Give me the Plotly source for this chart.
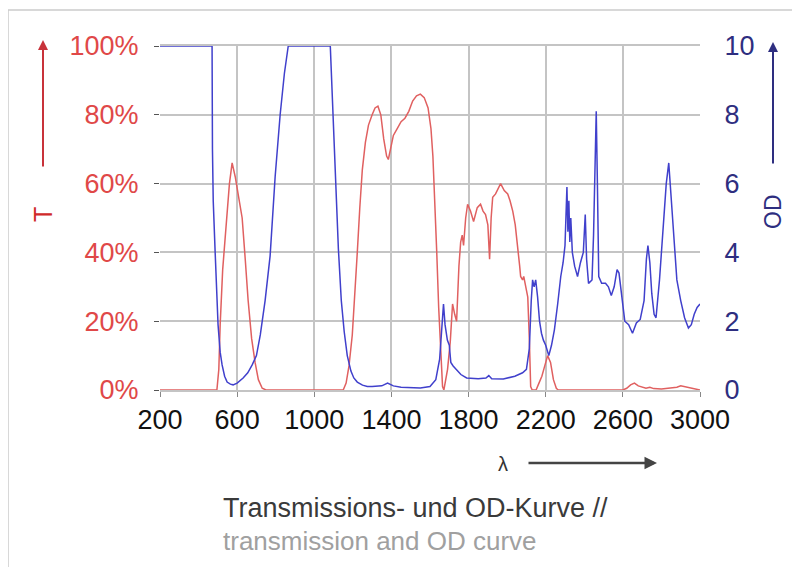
import plotly.graph_objects as go

# ---------------- data ----------------
wl_T = [200, 495, 505, 512, 525, 538, 548, 560, 574, 590, 608, 626, 642, 657, 675, 693, 710, 730, 750,
        1150, 1165, 1180, 1197, 1210, 1223, 1236, 1249, 1265, 1281, 1300, 1315, 1330, 1345, 1360, 1375, 1384,
        1395, 1410, 1430, 1450, 1470, 1490, 1510, 1530, 1550, 1570, 1590, 1605, 1615, 1625, 1635, 1645, 1655,
        1665, 1672, 1680, 1691, 1705, 1717, 1728, 1738, 1750, 1759, 1767, 1774, 1785, 1795, 1810, 1826, 1845,
        1862, 1875, 1888, 1900, 1909, 1917, 1925, 1940, 1955, 1966, 1985, 2003, 2015, 2029, 2042, 2055, 2065,
        2070, 2080, 2086, 2095, 2107, 2115, 2122, 2130, 2150, 2165, 2180, 2195, 2210, 2225, 2240, 2255, 2265,
        2600, 2620, 2640, 2660, 2680, 2700, 2720, 2740, 2760, 2800, 2850, 2880, 2900, 2920, 2950, 2980, 3000]
T_pct = [0, 0, 6, 19, 35, 45, 50, 60, 66, 62, 56, 50, 38, 26, 15, 8, 3, 0.5, 0,
         0, 2, 7, 16, 27, 40, 53, 64, 72, 77, 80, 82, 82.5, 80, 73, 68, 67,
         70, 74, 76, 78, 79, 81, 84, 85.5, 86, 85, 82, 76, 68, 56, 40, 24, 10,
         1, 0, 3, 6, 14, 25, 22, 20, 36, 43, 45, 42, 50, 54, 52, 49, 53,
         54, 52, 51, 48, 38, 50, 56, 57, 59, 60, 58, 57, 55, 52, 48, 42, 36,
         33, 32, 33, 30, 27, 15, 1, 0, 0, 2, 4, 7, 10, 8, 3, 0.5, 0,
         0, 0.5, 1.5, 2, 1.2, 0.8, 0.5, 0.8, 0.4, 0.3, 0.5, 0.8, 1.2, 1.0, 0.6, 0.3, 0]

wl_OD = [200, 470, 472, 476, 486, 501, 512, 522, 535, 548, 565, 579, 600, 631, 655, 678, 700, 720, 745,
         771, 797, 823, 845, 865, 1083, 1095, 1110, 1125, 1140, 1155, 1171, 1190, 1205, 1223, 1250, 1275,
         1300, 1350, 1380, 1410, 1450, 1500, 1550, 1600, 1630, 1650, 1662, 1670, 1678, 1690, 1700, 1708,
         1720, 1735, 1760, 1790, 1850, 1890, 1905, 1920, 1980, 2040, 2080, 2100, 2115, 2125, 2132, 2140,
         2148, 2158, 2168, 2178, 2188, 2200, 2216, 2230, 2245, 2262, 2278, 2290, 2300, 2310, 2315, 2320,
         2325, 2330, 2338, 2350, 2365, 2380, 2395, 2405, 2412, 2422, 2440, 2448, 2455, 2462, 2468, 2475,
         2490, 2510, 2525, 2540, 2555, 2570, 2580, 2595, 2610, 2630, 2650, 2670, 2690, 2710, 2722, 2730,
         2740, 2750, 2762, 2772, 2790, 2810, 2825, 2838, 2850, 2865, 2880, 2900, 2920, 2940, 2955, 2970,
         2985, 3000]
OD_vals = [10, 10, 7, 5.5, 4.0, 1.9, 1.1, 0.73, 0.4, 0.23, 0.17, 0.15, 0.2, 0.35, 0.5, 0.73, 1.0, 1.6, 2.6,
           3.9, 6.2, 8.0, 9.2, 10, 10, 8.3, 6.2, 4.1, 2.6, 1.7, 1.0, 0.55, 0.35, 0.23, 0.14, 0.1,
           0.1, 0.12, 0.2, 0.12, 0.08, 0.07, 0.06, 0.1, 0.3, 0.9, 1.8, 2.5, 1.9, 1.45, 1.3, 0.8,
           0.7, 0.6, 0.45, 0.35, 0.33, 0.35, 0.42, 0.33, 0.32, 0.4, 0.5, 0.6, 1.2, 2.6, 3.2, 3.0,
           3.2, 2.7, 2.0, 1.65, 1.45, 1.3, 1.0, 1.3, 1.75, 2.5, 3.3, 3.7, 4.2, 5.9, 4.6, 5.5,
           4.3, 5.0, 4.0, 3.6, 3.3, 3.7, 4.0, 5.1, 3.8, 3.1, 3.2, 4.5, 6.5, 8.1, 6.0, 3.3,
           3.1, 3.1, 3.0, 2.75, 3.0, 3.5, 3.4, 2.6, 2.0, 1.9, 1.65, 1.95, 2.05, 2.6, 3.8, 4.2,
           3.7, 2.8, 2.2, 2.1, 3.2, 4.8, 6.0, 6.6, 5.6, 4.2, 3.2, 2.6, 2.1, 1.8, 1.9, 2.2,
           2.4, 2.5]

x_ticks = [200, 600, 1000, 1400, 1800, 2200, 2600, 3000]
T_ticks = [0, 20, 40, 60, 80, 100]
T_tick_labels = ["0%", "20%", "40%", "60%", "80%", "100%"]
OD_ticks = [0, 2, 4, 6, 8, 10]

# ---------------- figure ----------------
FONT = "Liberation Sans, Arial, sans-serif"
RED = "#e04848"
NAVY = "#2e2e80"

fig = go.Figure()
fig.add_trace(go.Scatter(x=wl_T, y=T_pct, mode="lines", line=dict(color="#e06060", width=1.5),
                         yaxis="y", showlegend=False, hoverinfo="skip"))
fig.add_trace(go.Scatter(x=wl_OD, y=OD_vals, mode="lines", line=dict(color="#4040cc", width=1.5),
                         yaxis="y2", showlegend=False, hoverinfo="skip"))

fig.update_layout(
    width=800, height=567,
    margin=dict(l=152, r=108, t=38, b=185),
    paper_bgcolor="white", plot_bgcolor="white",
    font=dict(family=FONT),
    xaxis=dict(range=[200, 3000], tickvals=x_ticks, showgrid=True, gridcolor="#c4c4c4", gridwidth=2,
               zeroline=False, showline=True, linecolor="#c4c4c4", linewidth=2, mirror=True,
               ticks="outside", ticklen=5, tickcolor="#888",
               tickfont=dict(size=27, color="#111")),
    yaxis=dict(range=[0, 100], tickvals=T_ticks, ticktext=T_tick_labels, showgrid=True,
               gridcolor="#c4c4c4", gridwidth=2, zeroline=False, ticks="outside", ticklen=5,
               tickcolor="#555", tickfont=dict(size=27, color=RED), ticklabelstandoff=10),
    yaxis2=dict(range=[0, 10], tickvals=OD_ticks, overlaying="y", side="right", showgrid=False,
                zeroline=False, ticks="outside", ticklen=0, tickfont=dict(size=27, color=NAVY),
                ticklabelstandoff=18),
)

# outer frame
fig.add_shape(type="rect", xref="paper", yref="paper",
              x0=(8 - 160) / 540, x1=(810 - 160) / 540, y0=(390 - 590) / 344, y1=(390 - 10) / 344,
              line=dict(color="#cccccc", width=1.5), fillcolor="rgba(0,0,0,0)", layer="below")

# axis titles and arrows
fig.add_annotation(xref="paper", yref="paper", x=(43 - 160) / 540, y=(390 - 215) / 344, text="T",
                   textangle=-90, showarrow=False, xanchor="center", yanchor="middle",
                   font=dict(size=25, color="#d02a2a"))
fig.add_annotation(xref="paper", yref="paper", x=(43 - 160) / 540, y=(390 - 40) / 344, text="",
                   showarrow=True, ax=0, ay=128, arrowhead=2, arrowsize=1, arrowwidth=2,
                   arrowcolor="#c8323a")
fig.add_annotation(xref="paper", yref="paper", x=(773 - 160) / 540, y=(390 - 211) / 344, text="OD",
                   textangle=-90, showarrow=False, xanchor="center", yanchor="middle",
                   font=dict(size=23, color=NAVY))
fig.add_annotation(xref="paper", yref="paper", x=(773 - 160) / 540, y=(390 - 42) / 344, text="",
                   showarrow=True, ax=0, ay=123, arrowhead=2, arrowsize=1, arrowwidth=2,
                   arrowcolor=NAVY)

# lambda label and arrow
fig.add_annotation(xref="paper", yref="paper", x=(503 - 160) / 540, y=(390 - 464) / 344, text="λ",
                   showarrow=False, xanchor="center", yanchor="middle",
                   font=dict(size=20, color="#333"))
fig.add_annotation(xref="paper", yref="paper", x=(657 - 160) / 540, y=(390 - 463) / 344, text="",
                   showarrow=True, ax=-130, ay=0, arrowhead=2, arrowsize=1, arrowwidth=2.5,
                   arrowcolor="#444")

# caption
fig.add_annotation(xref="paper", yref="paper", x=(221 - 160) / 540, y=(390 - 508) / 344,
                   xanchor="left", yanchor="middle", text="Transmissions- und OD-Kurve //",
                   showarrow=False, font=dict(size=27, color="#3a3a3a"))
fig.add_annotation(xref="paper", yref="paper", x=(221 - 160) / 540, y=(390 - 541) / 344,
                   xanchor="left", yanchor="middle", text="transmission and OD curve",
                   showarrow=False, font=dict(size=26, color="#a0a0a0"))

fig.write_html("out.html")
